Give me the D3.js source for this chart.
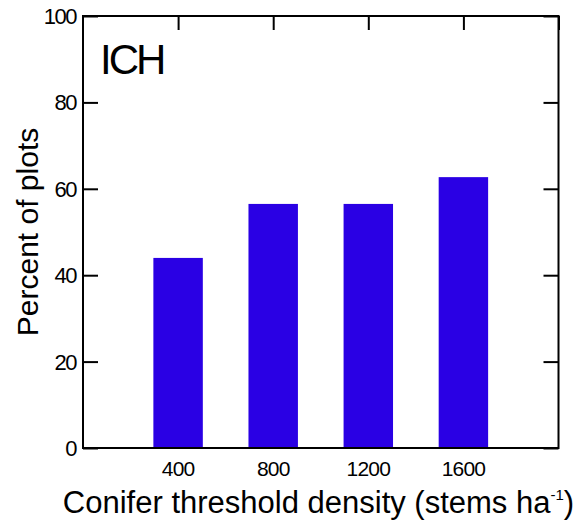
<!DOCTYPE html>
<html><head><meta charset="utf-8">
<script src="https://cdn.jsdelivr.net/npm/d3@7"></script>
<style>body{margin:0;background:#fff}text{font-family:"Liberation Sans",Arial,sans-serif;fill:#000}</style>
</head><body><svg id="c" width="587" height="525"></svg>
<script>
const densities = [400, 800, 1200, 1600];
const percents = [44, 56.5, 56.5, 62.7];
const yTicks = [0, 20, 40, 60, 80, 100];
const xTicks = [400, 800, 1200, 1600, 2000];
const xLabels = ["400", "800", "1200", "1600"];
const panelLabel = "ICH";

const svg = d3.select("#c");
const L = 83, R = 558.5, T = 16, B = 448;
const x = d3.scaleLinear().domain([0, 2000]).range([L, R]);
const y = d3.scaleLinear().domain([0, 100]).range([B, T]);
const barW = 208;

svg.selectAll("rect.bar").data(densities).enter().append("rect")
  .attr("x", (d) => x(d - barW / 2))
  .attr("width", x(barW) - x(0))
  .attr("y", (d, i) => y(percents[i]))
  .attr("height", (d, i) => y(0) - y(percents[i]))
  .attr("fill", "#2a00e4");

const sw = 2;
svg.append("rect").attr("x", L).attr("y", T).attr("width", R - L).attr("height", B - T)
  .attr("fill", "none").attr("stroke", "#000").attr("stroke-width", sw);

const tl = 15;
const axL = svg.append("g").attr("transform", `translate(${L},0)`)
  .call(d3.axisRight(y).tickValues(yTicks).tickSize(tl).tickFormat(""));
const axR = svg.append("g").attr("transform", `translate(${R},0)`)
  .call(d3.axisLeft(y).tickValues(yTicks).tickSize(tl).tickFormat(""));
const axT = svg.append("g").attr("transform", `translate(0,${T})`)
  .call(d3.axisBottom(x).tickValues(xTicks).tickSize(14).tickFormat(""));
[axL, axR, axT].forEach(g => {
  g.select(".domain").remove();
  g.selectAll("line").attr("stroke", "#000").attr("stroke-width", sw);
});

svg.selectAll("text.yt").data(yTicks).enter().append("text")
  .attr("x", L - 7).attr("y", d => y(d) + 8)
  .attr("text-anchor", "end").attr("font-size", 22).attr("letter-spacing", -1.5)
  .text(d => d);

svg.selectAll("text.xt").data(densities).enter().append("text")
  .attr("x", d => x(d)).attr("y", 476)
  .attr("text-anchor", "middle").attr("font-size", 21).attr("letter-spacing", -0.8)
  .text((d, i) => xLabels[i]);

svg.append("text").attr("transform", `translate(38,${(T + B) / 2}) rotate(-90)`)
  .attr("text-anchor", "middle").attr("font-size", 30).text("Percent of plots");

const xt = svg.append("text").attr("x", (62 + 575) / 2).attr("y", 513)
  .attr("text-anchor", "middle").attr("font-size", 31);
xt.append("tspan").text("Conifer threshold density (stems ha");
xt.append("tspan").attr("font-size", 15).attr("dy", -13).text("-1");
xt.append("tspan").attr("dy", 13).text(")");

svg.append("text").attr("x", 100).attr("y", 74).attr("font-size", 42).attr("letter-spacing", -3)
  .text(panelLabel);
</script></body></html>
